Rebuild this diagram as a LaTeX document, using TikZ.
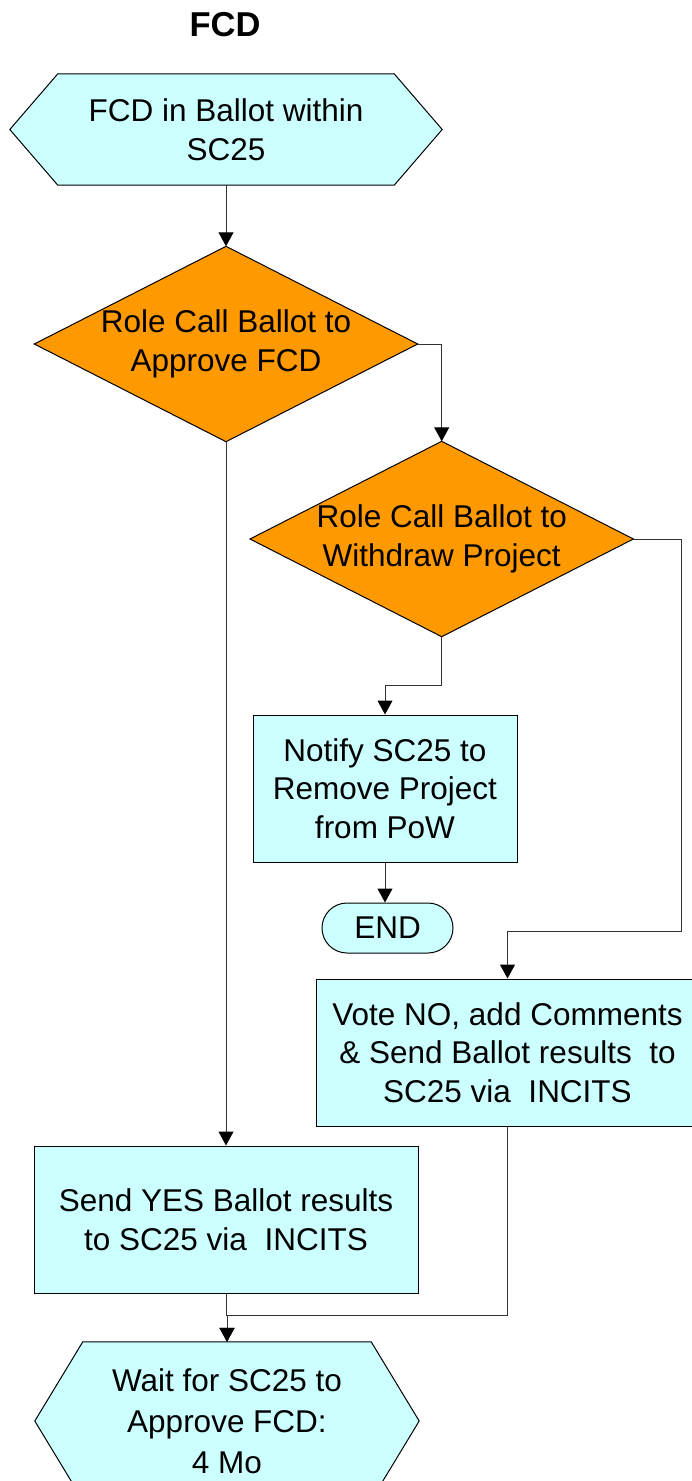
\documentclass[tikz,border=0pt]{standalone}
\usepackage{fontspec}
\setmainfont{Liberation Sans}
\usetikzlibrary{arrows.meta,backgrounds}
\definecolor{boxcyan}{HTML}{CCFFFF}
\definecolor{decorange}{HTML}{FF9900}
\begin{document}
\begin{tikzpicture}[x=1pt,y=-1pt,
  lbl/.style={font=\fontsize{31.5}{38.5}\selectfont, align=center, inner sep=0pt, text=black},
  procbox/.style={lbl, rectangle, draw=black, fill=boxcyan, line width=1pt},
  endbox/.style={lbl, rectangle, draw=black, fill=boxcyan, line width=1pt, rounded corners=25pt},
  hexshape/.style={lbl, rectangle},
  dia/.style={lbl, rectangle, minimum width=383pt, minimum height=195pt},
  shapeline/.style={draw=black, line width=1pt, line join=miter},
  conn/.style={draw=black!80, line width=1pt, -{Triangle[length=14pt,width=15pt,color=black,fill=black]}},
  titlefont/.style={font=\bfseries\fontsize{34.5}{40}\selectfont, inner sep=0pt}]

\useasboundingbox (0,0) rectangle (691,1481);

\node[titlefont] (ttl) at (225,25) {FCD};

\node[hexshape, minimum width=432pt, minimum height=111pt] (start) at (226,129.5) {FCD in Ballot within\\SC25};
\node[dia] (d1) at (226,344) {Role Call Ballot to\\Approve FCD};
\node[dia] (d2) at (441.7,539) {Role Call Ballot to\\Withdraw Project};
\node[procbox, minimum width=264pt, minimum height=147pt] (notify) at (385,788.5) {Notify SC25 to\\Remove Project\\from PoW};
\node[endbox, minimum width=131pt, minimum height=50pt] (end) at (387.5,928) {END};
\node[procbox, minimum width=383pt, minimum height=147pt] (vote) at (507.5,1052.5) {Vote NO, add Comments\\\&~Send Ballot results\ \ to\\SC25 via\ \ INCITS};
\node[procbox, minimum width=384pt, minimum height=147pt] (yes) at (226,1219.5) {Send YES Ballot results\\to SC25 via\ \ INCITS};
\node[hexshape, minimum width=384pt, minimum height=158pt, font=\fontsize{31.5}{41}\selectfont] (wait) at (227,1421) {Wait for SC25 to\\Approve FCD:\\4 Mo};

\begin{scope}[on background layer]
  \filldraw[shapeline, fill=boxcyan] (start.west) -- ([xshift=48pt]start.north west) -- ([xshift=-48pt]start.north east) -- (start.east) -- ([xshift=-48pt]start.south east) -- ([xshift=48pt]start.south west) -- cycle;
  \filldraw[shapeline, fill=boxcyan] (wait.west) -- ([xshift=48pt]wait.north west) -- ([xshift=-48pt]wait.north east) -- (wait.east) -- ([xshift=-48pt]wait.south east) -- ([xshift=48pt]wait.south west) -- cycle;
  \filldraw[shapeline, fill=decorange] (d1.west) -- (d1.north) -- (d1.east) -- (d1.south) -- cycle;
  \filldraw[shapeline, fill=decorange] (d2.west) -- (d2.north) -- (d2.east) -- (d2.south) -- cycle;
\end{scope}

\draw[conn] (start.south) -- (d1.north);
\draw[conn] (d1.east) -| (d2.north);
\draw[conn] (d1.south) -- (yes.north);
\draw[conn] (d2.south) -- ++(0,49) -| (notify.north);
\draw[conn] (notify.south) -- (notify.south |- end.north);
\draw[conn] (d2.east) -- ++(48,0) -- ++(0,392) -| (vote.north);
\draw[conn] (vote.south) -- ++(0,189) -| (wait.north);
\draw[conn] (yes.south) -- ++(0,22) -| (wait.north);
\end{tikzpicture}
\end{document}
